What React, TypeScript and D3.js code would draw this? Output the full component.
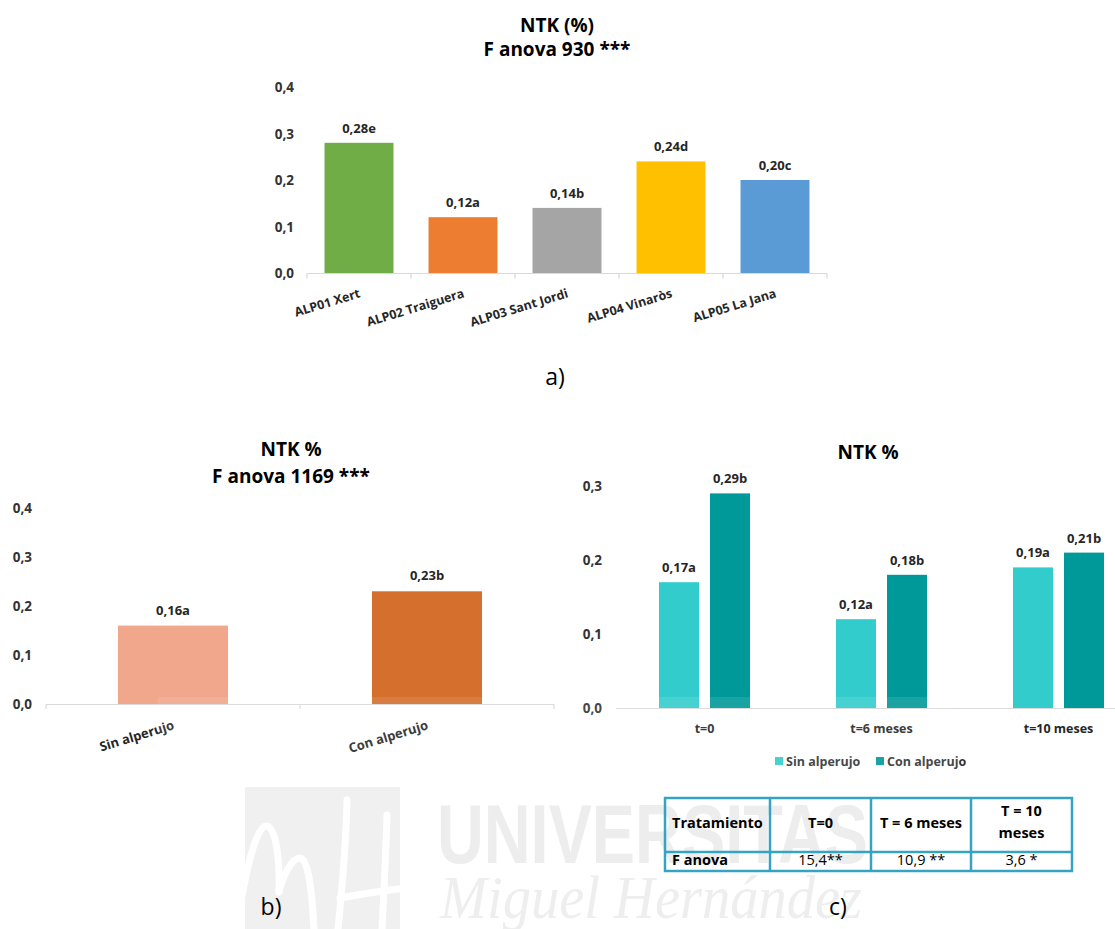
import React from "react";
import * as d3 from "d3";

// ---- a) NTK by olive-mill source ----
const sitesA = ["ALP01 Xert", "ALP02 Traiguera", "ALP03 Sant Jordi", "ALP04 Vinaròs", "ALP05 La Jana"];
const ntkA = [0.28, 0.12, 0.14, 0.24, 0.2];
const lettersA = ["e", "a", "b", "d", "c"];
const coloursA = ["#70AD47", "#ED7D31", "#A5A5A5", "#FFC000", "#5B9BD5"];
const ticksA = [0, 0.1, 0.2, 0.3, 0.4];

// ---- b) NTK with / without alperujo ----
const treatmentsB = ["Sin alperujo", "Con alperujo"];
const ntkB = [0.16, 0.23];
const lettersB = ["a", "b"];
const coloursB = ["#F0A78B", "#D46F2D"];
const ticksB = [0, 0.1, 0.2, 0.3, 0.4];

// ---- c) NTK over time ----
const timesC = ["t=0", "t=6 meses", "t=10 meses"];
const seriesC = ["Sin alperujo", "Con alperujo"];
const sinC = [0.17, 0.12, 0.19];
const conC = [0.29, 0.18, 0.21];
const lettersSinC = ["a", "a", "a"];
const lettersConC = ["b", "b", "b"];
const coloursC = ["#33CCCC", "#009999"];
const ticksC = [0, 0.1, 0.2, 0.3];

// ---- ANOVA table ----
const tableHeader = ["Tratamiento", "T=0", "T = 6 meses", "T = 10 meses"];
const tableFanova = ["F anova", "15,4**", "10,9 **", "3,6 *"];

const FONT = "'Open Sans', 'Noto Sans', sans-serif";
const comma = (s: string) => s.replace(".", ",");
const fmtVal = (v: number) => comma(d3.format(".2f")(v));
const fmtTick = (v: number) => comma(d3.format(".1f")(v));

const AXIS = "#D9D9D9";
const TICK_TXT = "#333333";
const VAL_TXT = "#262626";

function ChartA() {
  const x = d3.scaleBand<string>().domain(sitesA).range([307, 827]).paddingInner(0.337).paddingOuter(0.1685);
  const y = d3.scaleLinear().domain([0, 0.4]).range([273, 87]);
  const step = x.step();
  const bounds = d3.range(sitesA.length + 1).map((i) => 307 + i * step);
  return (
    <g>
      <text x={557} y={25} textAnchor="middle" dominantBaseline="central" fontFamily={FONT} fontWeight={700} fontSize={19} fill="#000">NTK (%)</text>
      <text x={557} y={49} textAnchor="middle" dominantBaseline="central" fontFamily={FONT} fontWeight={700} fontSize={19} fill="#000">F anova 930 ***</text>
      {ticksA.map((t) => (
        <text key={t} x={294} y={y(t)} textAnchor="end" dominantBaseline="central" fontFamily={FONT} fontWeight={700} fontSize={13.5} fill={TICK_TXT}>{fmtTick(t)}</text>
      ))}
      {sitesA.map((s, i) => (
        <rect key={s} x={x(s)} y={y(ntkA[i])} width={x.bandwidth()} height={y(0) - y(ntkA[i])} fill={coloursA[i]} />
      ))}
      <line x1={307} x2={827} y1={273.5} y2={273.5} stroke={AXIS} strokeWidth={1.2} />
      {bounds.map((b) => (
        <line key={b} x1={b} x2={b} y1={273.5} y2={278.5} stroke={AXIS} strokeWidth={1.2} />
      ))}
      {sitesA.map((s, i) => (
        <text key={s} x={(x(s) as number) + x.bandwidth() / 2} y={y(ntkA[i]) - 10} textAnchor="middle" fontFamily={FONT} fontWeight={700} fontSize={13} fill={VAL_TXT}>
          {fmtVal(ntkA[i]) + lettersA[i]}
        </text>
      ))}
      {sitesA.map((s) => (
        <text key={s} transform={`translate(${(x(s) as number) + x.bandwidth() / 2 + 2},297) rotate(-17)`} textAnchor="end" fontFamily={FONT} fontWeight={700} fontSize={12.5} fill={VAL_TXT}>{s}</text>
      ))}
      <text x={555} y={385} textAnchor="middle" fontFamily={FONT} fontSize={23} fill="#000">a)</text>
    </g>
  );
}

function ChartB() {
  const x = d3.scaleBand<string>().domain(treatmentsB).range([46, 554]).paddingInner(0.567).paddingOuter(0.2835);
  const y = d3.scaleLinear().domain([0, 0.4]).range([704, 508]);
  const bounds = [46, 300, 554];
  return (
    <g>
      <text x={291} y={449} textAnchor="middle" dominantBaseline="central" fontFamily={FONT} fontWeight={700} fontSize={19} fill="#000">NTK %</text>
      <text x={291} y={476} textAnchor="middle" dominantBaseline="central" fontFamily={FONT} fontWeight={700} fontSize={19} fill="#000">F anova 1169 ***</text>
      {ticksB.map((t) => (
        <text key={t} x={32} y={y(t)} textAnchor="end" dominantBaseline="central" fontFamily={FONT} fontWeight={700} fontSize={13.5} fill={TICK_TXT}>{fmtTick(t)}</text>
      ))}
      {treatmentsB.map((s, i) => (
        <rect key={s} x={x(s)} y={y(ntkB[i])} width={x.bandwidth()} height={y(0) - y(ntkB[i])} fill={coloursB[i]} />
      ))}
      <line x1={46} x2={554} y1={704.5} y2={704.5} stroke={AXIS} strokeWidth={1.2} />
      {bounds.map((b) => (
        <line key={b} x1={b} x2={b} y1={704.5} y2={709} stroke={AXIS} strokeWidth={1.2} />
      ))}
      {treatmentsB.map((s, i) => (
        <text key={s} x={(x(s) as number) + x.bandwidth() / 2} y={y(ntkB[i]) - 11} textAnchor="middle" fontFamily={FONT} fontWeight={700} fontSize={13} fill={VAL_TXT}>
          {fmtVal(ntkB[i]) + lettersB[i]}
        </text>
      ))}
      {treatmentsB.map((s) => (
        <text key={s} transform={`translate(${(x(s) as number) + x.bandwidth() / 2 + 2},729) rotate(-17)`} textAnchor="end" fontFamily={FONT} fontWeight={700} fontSize={13} fill={VAL_TXT}>{s}</text>
      ))}
    </g>
  );
}

function ChartC() {
  const x = d3.scaleBand<string>().domain(timesC).range([616, 1147]).padding(0);
  const xs = d3.scaleBand<string>().domain(seriesC).range([0, x.step()]).paddingInner(0.2157).paddingOuter(0.843);
  const y = d3.scaleLinear().domain([0, 0.3]).range([708, 486]);
  const groups = [sinC, conC];
  const letters = [lettersSinC, lettersConC];
  return (
    <g>
      <text x={868} y={452} textAnchor="middle" dominantBaseline="central" fontFamily={FONT} fontWeight={700} fontSize={19} fill="#000">NTK %</text>
      {ticksC.map((t) => (
        <text key={t} x={602} y={y(t)} textAnchor="end" dominantBaseline="central" fontFamily={FONT} fontWeight={700} fontSize={13.5} fill={TICK_TXT}>{fmtTick(t)}</text>
      ))}
      {timesC.map((tm, i) =>
        seriesC.map((s, k) => (
          <rect key={tm + s} x={(x(tm) as number) + (xs(s) as number)} y={y(groups[k][i])} width={xs.bandwidth()} height={y(0) - y(groups[k][i])} fill={coloursC[k]} />
        ))
      )}
      <line x1={616} x2={1115} y1={708.5} y2={708.5} stroke={AXIS} strokeWidth={1.2} />
      {timesC.map((tm, i) =>
        seriesC.map((s, k) => (
          <text key={tm + s} x={(x(tm) as number) + (xs(s) as number) + xs.bandwidth() / 2} y={y(groups[k][i]) - 10} textAnchor="middle" fontFamily={FONT} fontWeight={700} fontSize={13} fill={VAL_TXT}>
            {fmtVal(groups[k][i]) + letters[k][i]}
          </text>
        ))
      )}
      {timesC.map((tm) => (
        <text key={tm} x={(x(tm) as number) + x.bandwidth() / 2} y={728} textAnchor="middle" dominantBaseline="central" fontFamily={FONT} fontWeight={700} fontSize={12.5} fill={VAL_TXT}>{tm}</text>
      ))}
      {/* legend */}
      {seriesC.map((s, k) => {
        const lx = [775, 876][k];
        return (
          <g key={s}>
            <rect x={lx} y={757} width={8} height={8} fill={coloursC[k]} />
            <text x={lx + 11} y={761} dominantBaseline="central" fontFamily={FONT} fontWeight={700} fontSize={12.5} fill="#333">{s}</text>
          </g>
        );
      })}
    </g>
  );
}

function Watermark() {
  return (
    <g>
      {/* translucent backdrop that slightly lightens the bars it covers */}
      <rect x={158} y={697} width={800} height={232} fill="#fff" opacity={0.1} />
      <rect x={245} y={787} width={155} height={142} fill="#F0F0F0" />
      <g fill="none" stroke="#fff" strokeWidth={7} strokeLinecap="round">
        <path d="M236,929 C246,870 256,826 266,826 C276,826 280,860 279,892" />
        <path d="M279,892 C283,875 292,858 300,858 C308,858 312,890 314,929" />
        <path d="M347,800 C346,840 342,890 338,929" />
        <path d="M387,815 C386,850 384,890 382,929" />
        <path d="M340,898 C362,894 386,890 408,888" />
      </g>
      <text x={437} y={863} fontFamily="'Liberation Sans', Arial, sans-serif" fontWeight={700} fontSize={84} textLength={431} lengthAdjust="spacingAndGlyphs" fill="#EDEDED">UNIVERSITAS</text>
      <text x={440} y={918} fontFamily="'Liberation Serif', 'DejaVu Serif', serif" fontStyle="italic" fontSize={62} textLength={422} lengthAdjust="spacingAndGlyphs" fill="#EEEEEE">Miguel Hernández</text>
    </g>
  );
}

function AnovaTable() {
  const cols = [665, 770, 871, 971, 1072];
  const rows = [798, 852, 871];
  const mid = (i: number) => (cols[i] + cols[i + 1]) / 2;
  const stroke = "#35A3C3";
  return (
    <g fontFamily={FONT} fill="#000">
      {tableHeader.map((h, i) => {
        if (i === 0) return <text key={h} x={672} y={828} fontWeight={700} fontSize={14.5}>{h}</text>;
        if (h.includes("10")) {
          const [a, b] = ["T = 10", "meses"];
          return (
            <g key={h}>
              <text x={mid(i)} y={816} textAnchor="middle" fontWeight={700} fontSize={14.5}>{a}</text>
              <text x={mid(i)} y={838} textAnchor="middle" fontWeight={700} fontSize={14.5}>{b}</text>
            </g>
          );
        }
        return <text key={h} x={mid(i)} y={828} textAnchor="middle" fontWeight={700} fontSize={14.5}>{h}</text>;
      })}
      {tableFanova.map((v, i) =>
        i === 0 ? (
          <text key={v} x={672} y={865} fontWeight={700} fontSize={14.5}>{v}</text>
        ) : (
          <text key={v} x={mid(i)} y={865} textAnchor="middle" fontSize={14.5}>{v}</text>
        )
      )}
      <g stroke={stroke} strokeWidth={2.5} fill="none">
        <rect x={cols[0]} y={rows[0]} width={cols[4] - cols[0]} height={rows[2] - rows[0]} />
        <line x1={cols[0]} x2={cols[4]} y1={rows[1]} y2={rows[1]} />
        {cols.slice(1, 4).map((c) => (
          <line key={c} x1={c} x2={c} y1={rows[0]} y2={rows[2]} />
        ))}
      </g>
    </g>
  );
}

export default function App() {
  return (
    <svg width={1115} height={929} viewBox="0 0 1115 929" style={{ position: "absolute", left: 0, top: 0, display: "block", background: "#fff" }}>
      <rect width={1115} height={929} fill="#fff" />
      <ChartA />
      <ChartB />
      <ChartC />
      <Watermark />
      <AnovaTable />
      <text x={271} y={915} textAnchor="middle" fontFamily={FONT} fontSize={23} fill="#000">b)</text>
      <text x={838} y={915} textAnchor="middle" fontFamily={FONT} fontSize={23} fill="#000">c)</text>
    </svg>
  );
}
